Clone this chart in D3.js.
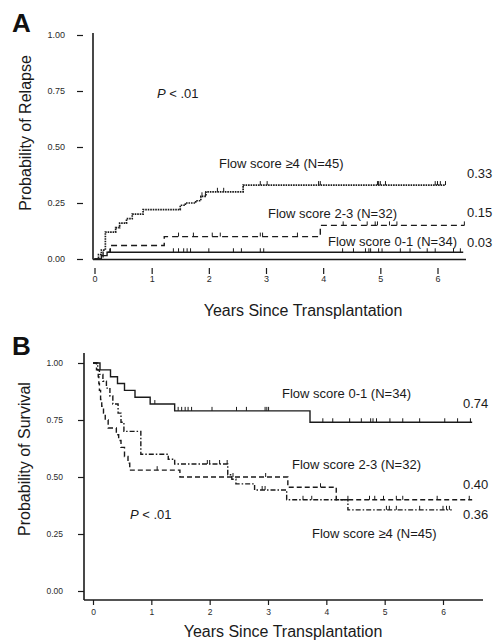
<!DOCTYPE html>
<html>
<head>
<meta charset="utf-8">
<script src="https://cdn.jsdelivr.net/npm/d3@7"></script>
<style>
  body { margin: 0; background: #fff; }
  svg { display: block; font-family: "Liberation Sans", Arial, sans-serif; }
</style>
</head>
<body>
<div id="chart"></div>
<script>
// Tick values shared by both panels
const yTicks = [0, 0.25, 0.5, 0.75, 1];
const xTicks = [0, 1, 2, 3, 4, 5, 6];

// Panel A - probability of relapse, steps as [years, probability]
const relapse01 = [[0, 0], [0.12, 0.015], [0.22, 0.03]];
const relapse23 = [[0, 0], [0.15, 0.03], [0.27, 0.06], [1.22, 0.10], [3.95, 0.15]];
const relapse4 = [[0, 0], [0.07, 0.02], [0.12, 0.04], [0.19, 0.12], [0.37, 0.14], [0.44, 0.16],
  [0.56, 0.18], [0.66, 0.20], [0.85, 0.22], [1.5, 0.24], [1.59, 0.25], [1.77, 0.26],
  [1.86, 0.28], [1.95, 0.30], [2.6, 0.33]];
// censored observations (years)
const cens01A = [0.28, 1.38, 1.47, 1.56, 1.62, 1.68, 2.0, 2.43, 2.57, 2.9, 2.96, 4.34, 4.53,
  4.74, 4.8, 4.83, 4.97, 5.03, 5.35, 5.52, 5.82, 5.96, 6.28, 6.4];
const cens23A = [1.47, 1.73, 2.06, 2.2, 2.9, 2.94, 3.55, 4.35, 4.77, 4.91, 4.95, 5.16, 5.29, 6.47];
const cens4A = [1.88, 1.94, 2.15, 2.26, 2.9, 3.02, 3.92, 3.95, 4.95, 4.97, 5.0, 5.09, 5.96,
  6.0, 6.05, 6.14];

// Panel B - probability of survival
const surv01 = [[0, 1], [0.12, 0.97], [0.30, 0.94], [0.42, 0.91], [0.54, 0.88], [0.72, 0.85],
  [0.98, 0.82], [1.40, 0.79], [3.72, 0.74]];
const surv23 = [[0, 1], [0.06, 0.97], [0.09, 0.94], [0.10, 0.91], [0.11, 0.88], [0.13, 0.84],
  [0.15, 0.81], [0.18, 0.78], [0.21, 0.75], [0.26, 0.715], [0.40, 0.685], [0.44, 0.66],
  [0.48, 0.63], [0.54, 0.59], [0.60, 0.56], [0.63, 0.53], [1.49, 0.50], [3.34, 0.455], [4.17, 0.40]];
const surv4 = [[0, 1], [0.08, 0.97], [0.11, 0.95], [0.17, 0.92], [0.23, 0.89], [0.29, 0.855],
  [0.34, 0.82], [0.43, 0.78], [0.48, 0.74], [0.53, 0.70], [0.82, 0.60], [1.29, 0.578],
  [1.40, 0.557], [2.31, 0.51], [2.38, 0.49], [2.45, 0.47], [2.77, 0.443], [3.32, 0.40], [4.37, 0.356]];
const cens01B = [1.06, 1.46, 1.52, 1.58, 1.63, 1.69, 2.04, 2.46, 2.63, 2.95, 2.98, 3.01, 3.94,
  4.11, 4.40, 4.60, 4.76, 4.80, 4.86, 5.09, 5.31, 5.60, 6.03, 6.25, 6.47];
const cens23B = [1.10, 2.4, 2.96, 3.9, 4.37, 4.74, 4.83, 4.98, 5.2, 5.31, 5.9, 6.45];
const cens4B = [1.96, 2.0, 2.17, 2.3, 2.9, 2.95, 3.6, 3.75, 5.03, 5.08, 5.2, 5.6, 6.0, 6.06, 6.11];

const width = 496, height = 643;

const svg = d3.select("#chart").append("svg")
  .attr("width", width)
  .attr("height", height);

const ink = "#1a1a1a";

// Value of a step function at time t
function stepValue(steps, t) {
  let v = steps[0][1];
  steps.forEach(([x, y]) => { if (x <= t) v = y; });
  return v;
}

function drawPanel(p) {
  const g = svg.append("g");
  const x = d3.scaleLinear().domain([0, 6]).range(p.xRange);
  const y = d3.scaleLinear().domain([0, 1]).range(p.yRange);

  // panel letter
  g.append("text").attr("x", 12).attr("y", p.letterY)
    .attr("font-size", 26).attr("font-weight", "bold").attr("fill", "#111").text(p.letter);

  // frame lines
  g.append("line").attr("x1", p.frameX).attr("x2", p.frameX)
    .attr("y1", p.frameTop).attr("y2", p.frameY)
    .attr("stroke", ink).attr("stroke-width", 1.6);
  g.append("line").attr("x1", p.frameX).attr("x2", p.frameRight)
    .attr("y1", p.frameY).attr("y2", p.frameY)
    .attr("stroke", ink).attr("stroke-width", 1.6);

  // axes
  const ya = g.append("g").attr("transform", `translate(${p.yAxisX},0)`)
    .call(d3.axisLeft(y).tickValues(yTicks).tickFormat(d3.format(".2f"))
      .tickSize(6).tickPadding(p.yPad));
  const xa = g.append("g").attr("transform", `translate(0,${p.xAxisY})`)
    .call(d3.axisBottom(x).tickValues(xTicks).tickFormat(d3.format("d"))
      .tickSize(p.xTick).tickPadding(p.xPad));
  [ya, xa].forEach(a => {
    a.select(".domain").remove();
    a.selectAll(".tick line").attr("stroke", ink).attr("stroke-width", 1.2);
    a.selectAll(".tick text").attr("fill", "#2a2a2a").attr("font-size", p.tickFont)
      .attr("font-family", "Liberation Sans, Arial, sans-serif");
  });

  // axis titles
  g.append("text")
    .attr("transform", `translate(${p.yTitleX},${p.yTitleY}) rotate(-90)`)
    .attr("text-anchor", "middle").attr("font-size", 16).attr("fill", ink)
    .text(p.yTitle);
  g.append("text").attr("x", p.xTitleX).attr("y", p.xTitleY)
    .attr("text-anchor", "middle").attr("font-size", 16).attr("fill", ink)
    .text("Years Since Transplantation");

  // curves
  const line = d3.line().x(d => x(d[0])).y(d => y(d[1])).curve(d3.curveStepAfter);
  p.series.forEach(s => {
    const pts = s.steps.concat([[s.end, s.steps[s.steps.length - 1][1]]]);
    g.append("path").attr("d", line(pts))
      .attr("fill", "none").attr("stroke", ink).attr("stroke-width", s.width || 1.4)
      .attr("stroke-dasharray", s.dash);
    g.selectAll(null).data(s.cens).enter().append("line")
      .attr("x1", d => x(d)).attr("x2", d => x(d))
      .attr("y1", d => y(stepValue(s.steps, d)))
      .attr("y2", d => y(stepValue(s.steps, d)) - 4)
      .attr("stroke", ink).attr("stroke-width", 1);
  });

  // annotations
  p.labels.forEach(l => {
    const t = g.append("text").attr("x", l[0]).attr("y", l[1])
      .attr("font-size", 13).attr("fill", ink);
    if (l[2] === "P") {
      t.append("tspan").attr("font-style", "italic").text("P");
      t.append("tspan").text(" < .01");
    } else {
      t.text(l[2]);
    }
  });
}

drawPanel({
  letter: "A", letterY: 32,
  xRange: [94.5, 437.5], yRange: [259, 35],
  frameX: 93, frameY: 259.5, frameTop: 33, frameRight: 466,
  yAxisX: 83, yPad: 12, xAxisY: 268, xTick: 6, xPad: 2, tickFont: 9,
  yTitle: "Probability of Relapse", yTitleX: 31, yTitleY: 133,
  xTitleX: 303, xTitleY: 316,
  series: [
    { steps: relapse01, end: 6.45, cens: cens01A, dash: null },
    { steps: relapse23, end: 6.47, cens: cens23A, dash: "6,4" },
    { steps: relapse4, end: 6.14, cens: cens4A, dash: "1.6,0.9", width: 1.7 }
  ],
  labels: [
    [157, 97.5, "P"],
    [219, 167.5, "Flow score \u22654 (N=45)"],
    [268, 217.5, "Flow score 2-3 (N=32)"],
    [328, 245.5, "Flow score 0-1 (N=34)"],
    [467, 177.5, "0.33"],
    [467, 216.5, "0.15"],
    [467, 246.5, "0.03"]
  ]
});

drawPanel({
  letter: "B", letterY: 355,
  xRange: [93, 443], yRange: [591, 363],
  frameX: 84, frameY: 600, frameTop: 353, frameRight: 483,
  yAxisX: 84, yPad: 15, xAxisY: 600, xTick: 5, xPad: 4, tickFont: 8.5,
  yTitle: "Probability of Survival", yTitleX: 30, yTitleY: 459,
  xTitleX: 283, xTitleY: 637,
  series: [
    { steps: surv01, end: 6.5, cens: cens01B, dash: null },
    { steps: surv23, end: 6.5, cens: cens23B, dash: "5,3" },
    { steps: surv4, end: 6.15, cens: cens4B, dash: "5,2,1.5,2" }
  ],
  labels: [
    [130, 518.5, "P"],
    [282, 397.5, "Flow score 0-1 (N=34)"],
    [292, 468.5, "Flow score 2-3 (N=32)"],
    [312, 537.5, "Flow score \u22654 (N=45)"],
    [463, 407.5, "0.74"],
    [463, 488.5, "0.40"],
    [463, 518.5, "0.36"]
  ]
});
</script>
</body>
</html>
